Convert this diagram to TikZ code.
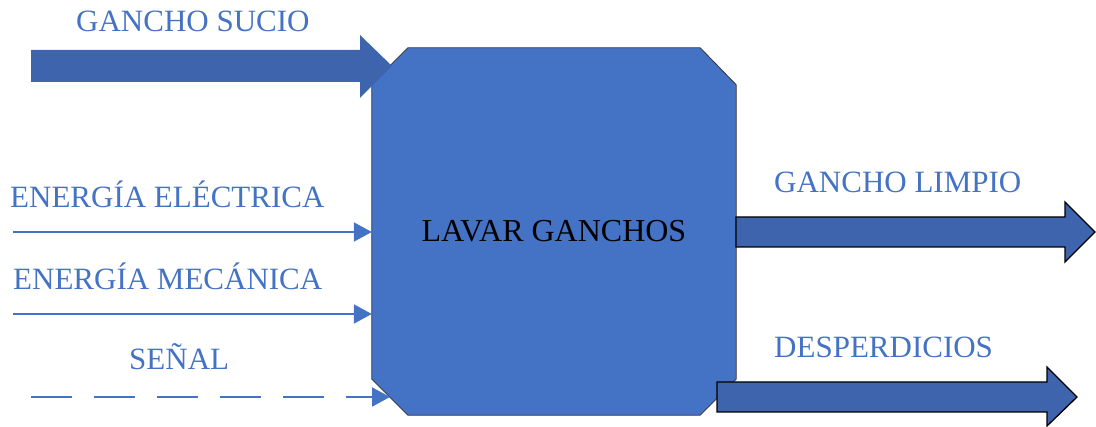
\documentclass[tikz,border=0pt]{standalone}
\usepackage{fontspec}
\setmainfont{Liberation Serif}
\usetikzlibrary{arrows.meta,backgrounds}
\definecolor{boxblue}{HTML}{4472C4}
\definecolor{arrowblue}{HTML}{3E64AD}
\definecolor{txtblue}{HTML}{4472C4}
\tikzset{
  lbl/.style={anchor=base west, inner sep=0pt, text=txtblue, font=\fontsize{31}{36}\selectfont},
  thinarrow/.style={draw=txtblue, line width=2pt, -{Triangle[length=18pt,width=19pt]}},
  bigarrow/.style={fill=arrowblue},
  bigarrowb/.style={fill=arrowblue, draw=black, line width=1.3pt, line join=miter},
  boxshape/.style={fill=boxblue, draw=black!80, line width=0.8pt}
}
\begin{document}
\begin{tikzpicture}[x=1pt,y=-1pt]
\useasboundingbox (0,0) rectangle (1096,427);
% main block
\node[minimum width=364pt, minimum height=367pt, inner sep=0pt,
      font=\fontsize{32}{36}\selectfont] (box) at (554,231.5) {LAVAR GANCHOS};
\begin{scope}[on background layer]
\filldraw[boxshape] ([xshift=36pt]box.north west) -- ([xshift=-36pt]box.north east)
  -- ([yshift=-37pt]box.north east) -- ([yshift=36pt]box.south east)
  -- ([xshift=-36pt]box.south east) -- ([xshift=36pt]box.south west)
  -- ([yshift=36pt]box.south west) -- ([yshift=-36pt]box.north west) -- cycle;
\end{scope}
% labels
\node[lbl] (tgs) at (76,32) {GANCHO SUCIO};
\node[lbl] (tee) at (10,208) {ENERGÍA ELÉCTRICA};
\node[lbl] (tem) at (13,290) {ENERGÍA MECÁNICA};
\node[lbl] (tse) at (129,370) {SEÑAL};
\node[lbl] (tgl) at (774,193) {GANCHO LIMPIO};
\node[lbl] (tde) at (774,358) {DESPERDICIOS};
% thin inputs
\coordinate (ee) at (13,232);
\coordinate (em) at (13,314);
\coordinate (se) at (31,397);
\coordinate (sen) at (390,397);
\draw[thinarrow] (ee) -- (ee -| box.west);
\draw[thinarrow] (em) -- (em -| box.west);
\draw[thinarrow, dash pattern=on 41pt off 22pt] (se) -- (sen);
% block arrows
\fill[bigarrow] (31,50) -- (360,50) -- (360,35) -- (392,66) -- (360,98) -- (360,82) -- (31,82) -- cycle;
\filldraw[bigarrowb] (736,217) -- (1065,217) -- (1065,202) -- (1095,232) -- (1065,262) -- (1065,247) -- (736,247) -- cycle;
\filldraw[bigarrowb] (717,382) -- (1047,382) -- (1047,367) -- (1077,397) -- (1047,426) -- (1047,412) -- (717,412) -- cycle;
\end{tikzpicture}
\end{document}
